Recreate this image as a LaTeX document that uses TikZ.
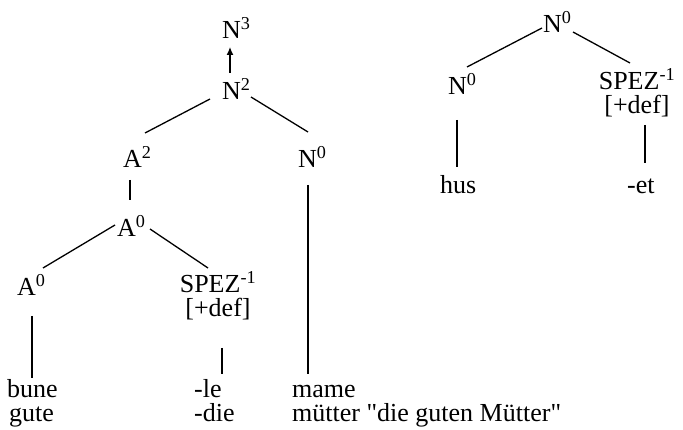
\documentclass[tikz,border=0pt]{standalone}
\usepackage{fontspec}
\setmainfont{Liberation Serif}
\newfontfamily\plainquote{Liberation Serif}
\usetikzlibrary{calc,arrows.meta}
\begin{document}
\begin{tikzpicture}[x=1pt,y=-1pt,
  lab/.style={inner sep=0pt,anchor=base west,font=\fontsize{26}{22}\selectfont},
  stack/.style={inner sep=0pt,anchor=base,font=\fontsize{26}{22}\selectfont},
  edge/.style={line width=1.3pt}]
\useasboundingbox (0,0) rectangle (683,430);
% left tree
\node[lab] (n3) at (222,39) {N\textsuperscript{3}};
\node[lab] (n2) at (222,100) {N\textsuperscript{2}};
\node[lab] (a2) at (123,168) {A\textsuperscript{2}};
\node[lab] (nm) at (298,168) {N\textsuperscript{0}};
\node[lab] (a0m) at (117,237) {A\textsuperscript{0}};
\node[lab] (a0l) at (17,296) {A\textsuperscript{0}};
\node[stack] (spez) at (218,317) {\begin{tabular}[b]{@{}c@{}}SPEZ\textsuperscript{-1}\\{[+def]}\end{tabular}};
\node[lab] (bune) at (7,397) {bune};
\node[lab] (gute) at (9,421) {gute};
\node[lab] (le) at (194,397) {-le};
\node[lab] (die) at (194,421) {-die};
\node[lab] (mame) at (292,397) {mame};
\node[lab] (mutter) at (292,421) {\plainquote mütter "die guten Mütter"};
% right tree
\node[lab] (rtop) at (543,33) {N\textsuperscript{0}};
\node[lab] (rl) at (448,95) {N\textsuperscript{0}};
\node[stack] (rspez) at (637,114) {\begin{tabular}[b]{@{}c@{}}SPEZ\textsuperscript{-1}\\{[+def]}\end{tabular}};
\node[lab] (hus) at (440,194) {hus};
\node[lab] (et) at (627,194) {-et};
% connectors left
\draw[edge,-{Latex[length=8pt,width=7pt]}] ($(n2.base west)+(8,-27)$) -- ($(n3.base west)+(8,8)$);
\draw[edge] ($(n2.base west)+(-12,-1)$) -- ($(a2.base west)+(22,-35)$);
\draw[edge] ($(n2.base west)+(29,-3)$) -- ($(nm.base west)+(10,-36)$);
\draw[edge] ($(a2.base west)+(7,12)$) -- ($(a0m.base west)+(13,-37)$);
\draw[edge] ($(a0m.base west)+(-2,-12)$) -- ($(a0l.base west)+(26,-28)$);
\draw[edge] ($(a0m.base west)+(33,-8)$) -- ($(spez.base)+(-10,-49)$);
\draw[edge] ($(a0l.base west)+(15,20)$) -- ($(bune.base west)+(25,-19)$);
\draw[edge] ($(spez.base)+(4,31)$) -- ($(le.base west)+(28,-23)$);
\draw[edge] ($(nm.base west)+(10,17)$) -- ($(mame.base west)+(16,-23)$);
% connectors right
\draw[edge] ($(rtop.base west)+(-1,-5)$) -- ($(rl.base west)+(19,-28)$);
\draw[edge] ($(rtop.base west)+(30,-1)$) -- ($(rspez.base)+(-7,-51)$);
\draw[edge] ($(rl.base west)+(9,25)$) -- ($(hus.base west)+(17,-27)$);
\draw[edge] ($(rspez.base)+(8,11)$) -- ($(et.base west)+(18,-31)$);
\end{tikzpicture}
\end{document}
